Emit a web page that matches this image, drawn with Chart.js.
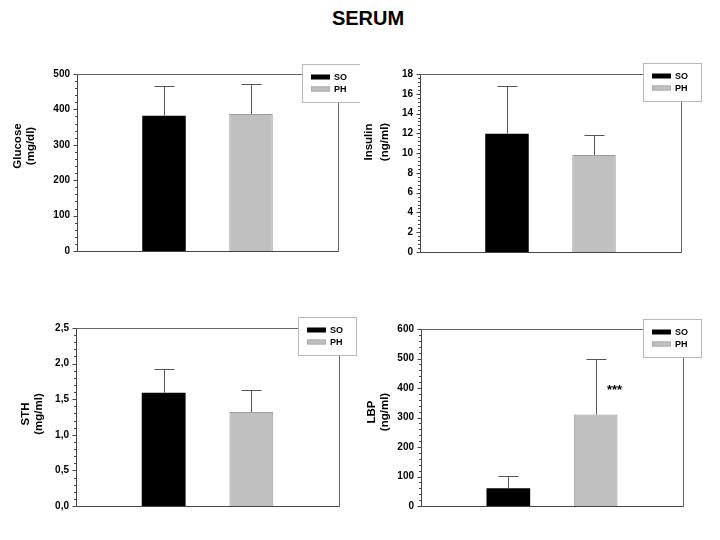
<!DOCTYPE html>
<html><head><meta charset="utf-8">
<script src="https://cdn.jsdelivr.net/npm/chart.js@4/dist/chart.umd.min.js"></script>
<style>
body{margin:0;background:#fff;width:720px;height:540px;position:relative;overflow:hidden;font-family:"Liberation Sans",Arial,sans-serif}
#title{position:absolute;left:0;width:736px;top:7px;text-align:center;font-weight:bold;font-size:20px;color:#000}
canvas{position:absolute}
</style></head><body>
<div id="title">SERUM</div>
<canvas id="c0" width="360" height="240"></canvas>
<canvas id="c1" width="360" height="240"></canvas>
<canvas id="c2" width="360" height="240"></canvas>
<canvas id="c3" width="360" height="240"></canvas>
<script>
// ---- data ----
const groups = ['SO', 'PH'];
const slots = ['', 'SO', 'PH', ''];
const glucose = [382, 387];
const glucoseErr = [83, 85];
const insulin = [11.95, 9.8];
const insulinErr = [4.85, 2.05];
const sth = [1.59, 1.32];
const sthErr = [0.33, 0.31];
const lbp = [60, 310];
const lbpErr = [42, 190];
const lbpSig = ['', '***'];
const sigLevel = 400;
const yTitles = [['Glucose', '(mg/dl)'], ['Insulin', '(ng/ml)'], ['STH', '(mg/ml)'], ['LBP', '(ng/ml)']];
const yMax = [500, 18, 2.5, 600];
const yStep = [100, 2, 0.5, 100];
const yDecimals = [0, 0, 1, 0];

const means = [glucose, insulin, sth, lbp];
const errs = [glucoseErr, insulinErr, sthErr, lbpErr];
const sigs = [null, null, null, lbpSig];

// ---- layout (page pixels) ----
const layout = [
  {cx: 0,   cy: 40,  area: [77, 74, 338, 251],  tx: [18, 31],  ty: 146, lg: [302, 64]},
  {cx: 360, cy: 40,  area: [420, 74, 681, 252], tx: [369, 385], ty: 142, lg: [643, 63]},
  {cx: 0,   cy: 290, area: [76, 328, 339, 506], tx: [26, 39],  ty: 414, lg: [298, 317]},
  {cx: 360, cy: 290, area: [421, 329, 683, 506],tx: [372, 385], ty: 412, lg: [643, 319]}
];
const CW = 360, CH = 240;
const colors = ['#000000', '#c0c0c0'];
const borders = ['#000000', '#9a9a9a'];

function fmt(v, d) { return v.toFixed(d).replace('.', ','); }

function makePlugin(p) {
  const L = layout[p];
  return {
    id: 'panel' + p,
    afterDatasetsDraw(chart) {
      const ctx = chart.ctx, ys = chart.scales.y;
      ctx.save();
      ctx.strokeStyle = '#555';
      ctx.lineWidth = 1;
      chart.data.datasets.forEach((ds, di) => {
        const meta = chart.getDatasetMeta(di);
        ds.data.forEach((v, i) => {
          if (v === null) return;
          const bar = meta.data[i];
          const e = ds.err[i];
          const y0 = ys.getPixelForValue(v);
          const y1 = ys.getPixelForValue(v + e);
          const x = Math.round(bar.x) + 0.5;
          const hw = bar.width * 0.23;
          ctx.beginPath();
          ctx.moveTo(x, y0);
          ctx.lineTo(x, Math.round(y1) + 0.5);
          ctx.moveTo(x - hw, Math.round(y1) + 0.5);
          ctx.lineTo(x + hw, Math.round(y1) + 0.5);
          ctx.stroke();
          if (ds.sig && ds.sig[i]) {
            ctx.fillStyle = '#000';
            ctx.font = 'bold 13px "Liberation Sans", Arial, sans-serif';
            ctx.textAlign = 'center';
            ctx.textBaseline = 'middle';
            ctx.fillText(ds.sig[i], bar.x + bar.width / 2 - 3, ys.getPixelForValue(sigLevel) + 2);
          }
        });
      });
      ctx.restore();
    },
    afterDraw(chart) {
      const ctx = chart.ctx, a = chart.chartArea, ys = chart.scales.y;
      ctx.save();
      // frame
      ctx.lineWidth = 1;
      ctx.strokeStyle = '#666';
      const l = Math.round(a.left) + 0.5, r = Math.round(a.right) + 0.5;
      const t = Math.round(a.top) + 0.5, b = Math.round(a.bottom) + 0.5;
      ctx.beginPath();
      ctx.moveTo(l, t); ctx.lineTo(r, t); ctx.lineTo(r, b);
      ctx.stroke();
      ctx.strokeStyle = '#444';
      ctx.beginPath();
      ctx.moveTo(l, t); ctx.lineTo(l, b); ctx.lineTo(r, b);
      ctx.stroke();
      // ticks
      const step = yStep[p], minor = step / 5;
      const n = Math.round(yMax[p] / minor);
      ctx.beginPath();
      for (let k = 0; k <= n; k++) {
        const v = k * minor;
        const y = Math.round(ys.getPixelForValue(v)) + 0.5;
        const len = (k % 5 === 0) ? 4 : 2.5;
        ctx.moveTo(l - len, y); ctx.lineTo(l, y);
      }
      ctx.stroke();
      // y titles
      ctx.fillStyle = '#000';
      ctx.font = 'bold 11.5px "Liberation Sans", Arial, sans-serif';
      ctx.textAlign = 'center';
      ctx.textBaseline = 'middle';
      yTitles[p].forEach((txt, i) => {
        ctx.save();
        ctx.translate(L.tx[i] - L.cx, L.ty - L.cy);
        ctx.rotate(-Math.PI / 2);
        ctx.fillText(txt, 0, 0);
        ctx.restore();
      });
      // legend
      const lx = L.lg[0] - L.cx, ly = L.lg[1] - L.cy, lw = 58, lh = 38;
      ctx.fillStyle = '#fff';
      ctx.fillRect(lx, ly, lw, lh);
      ctx.strokeStyle = '#b8b8b8';
      ctx.strokeRect(lx + 0.5, ly + 0.5, lw, lh);
      ctx.font = 'bold 9px "Liberation Sans", Arial, sans-serif';
      ctx.textAlign = 'left';
      chart.data.datasets.forEach((ds, i) => {
        const yy = ly + 13 + i * 12;
        ctx.fillStyle = ds.backgroundColor;
        ctx.fillRect(lx + 9, yy - 2.5, 19, 5);
        if (i === 1) { ctx.strokeStyle = '#aaa'; ctx.strokeRect(lx + 9.5, yy - 2, 18, 4); }
        ctx.fillStyle = '#000';
        ctx.fillText(ds.label, lx + 32, yy + 0.5);
      });
      ctx.restore();
    }
  };
}

for (let p = 0; p < 4; p++) {
  const L = layout[p];
  const cv = document.getElementById('c' + p);
  cv.style.left = L.cx + 'px';
  cv.style.top = L.cy + 'px';
  const datasets = groups.map((g, gi) => ({
    label: g,
    data: slots.map(s => s === g ? means[p][gi] : null),
    err: slots.map(s => s === g ? errs[p][gi] : null),
    sig: sigs[p] ? slots.map(s => s === g ? sigs[p][gi] : '') : null,
    backgroundColor: colors[gi],
    borderColor: borders[gi],
    borderWidth: gi === 1 ? 1 : 0,
    barPercentage: 0.5,
    categoryPercentage: 1,
    grouped: false
  }));
  const leftW = L.area[0] - L.cx;
  new Chart(cv, {
    type: 'bar',
    data: {labels: slots, datasets},
    options: {
      responsive: false,
      animation: false,
      devicePixelRatio: 1,
      layout: {padding: {left: 0, top: L.area[1] - L.cy, right: L.cx + CW - L.area[2], bottom: L.cy + CH - L.area[3]}},
      plugins: {legend: {display: false}, tooltip: {enabled: false}},
      scales: {
        x: {display: false, offset: false, grid: {display: false}},
        y: {
          min: 0, max: yMax[p],
          afterFit: s => { s.width = leftW; },
          grid: {display: false, drawTicks: false, tickLength: 0},
          border: {display: false},
          ticks: {
            stepSize: yStep[p], padding: 7, color: '#000',
            font: {family: '"Liberation Sans", Arial, sans-serif', size: 10, weight: 'bold'},
            callback: v => fmt(v, yDecimals[p])
          }
        }
      }
    },
    plugins: [makePlugin(p)]
  });
}
</script>
</body></html>
